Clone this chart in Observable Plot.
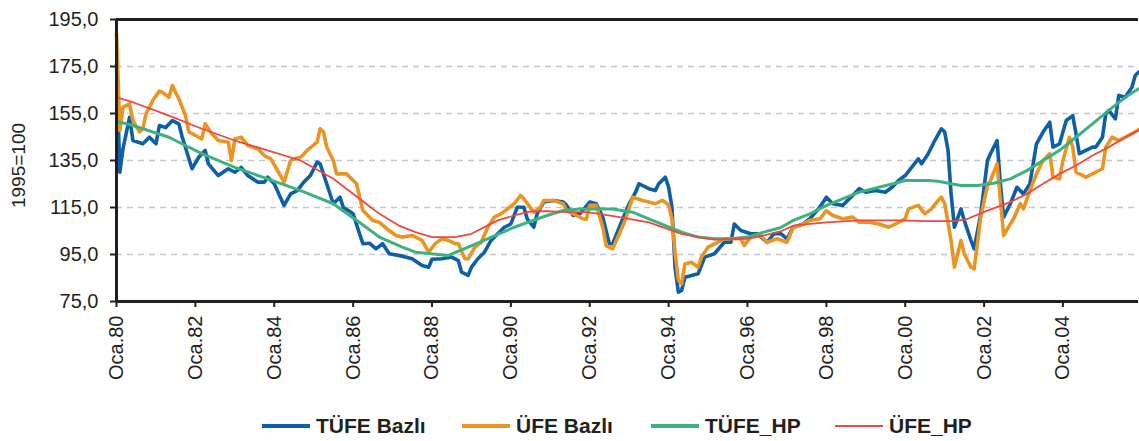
<!DOCTYPE html>
<html><head><meta charset="utf-8">
<script src="https://cdn.jsdelivr.net/npm/d3@7"></script>
<script src="https://cdn.jsdelivr.net/npm/@observablehq/plot@0.6"></script>
<style>
html,body{margin:0;padding:0;background:#fff;}
#wrap{position:relative;width:1139px;height:441px;overflow:hidden;font-family:"Liberation Sans",Arial,Helvetica,sans-serif;}
#legend{position:absolute;left:0;top:405px;width:1139px;height:41px;}
.item{position:absolute;top:0;height:41px;display:flex;align-items:center;}
.sw{width:48px;margin-right:6px;}
.lab{font-weight:bold;font-size:21px;color:#231f20;white-space:nowrap;}
</style></head><body>
<div id="wrap"><div id="chart"></div><div id="legend"></div></div>
<script>
// ---- data ----
const seriesNames = ["TÜFE Bazlı", "ÜFE Bazlı", "TÜFE_HP", "ÜFE_HP"];
const seriesColors = ["#0e5fa6", "#ec9422", "#3db27e", "#f0483a"];
const yTicks = [75, 95, 115, 135, 155, 175, 195];
const gridTicks = [95, 115, 135, 155, 175];
const xTickYears = ["1980","1982","1984","1986","1988","1990","1992","1994","1996","1998","2000","2002","2004"];
const xTickPrefix = "Oca.";
const yLabel = "1995=100";

const tufeDates = ["1980-01","1980-02","1980-03","1980-05","1980-06","1980-09","1980-11","1981-01","1981-02","1981-04","1981-06","1981-08","1981-09","1981-12","1982-02","1982-04","1982-05","1982-08","1982-11","1983-01","1983-03","1983-05","1983-08","1983-10","1983-11","1984-01","1984-04","1984-06","1984-08","1984-10","1984-12","1985-02","1985-03","1985-05","1985-07","1985-09","1985-10","1986-01","1986-03","1986-04","1986-06","1986-08","1986-10","1986-12","1987-04","1987-07","1987-10","1987-12","1988-01","1988-04","1988-07","1988-09","1988-10","1988-12","1989-01","1989-03","1989-05","1989-07","1989-09","1989-11","1990-01","1990-03","1990-05","1990-06","1990-08","1990-09","1990-11","1991-02","1991-05","1991-06","1991-08","1991-10","1992-01","1992-03","1992-05","1992-07","1992-08","1992-10","1993-01","1993-03","1993-04","1993-07","1993-09","1993-10","1993-12","1994-01","1994-02","1994-03","1994-04","1994-05","1994-06","1994-08","1994-10","1994-12","1995-03","1995-06","1995-08","1995-09","1995-11","1996-02","1996-04","1996-07","1996-09","1996-11","1997-01","1997-03","1997-06","1997-08","1997-11","1998-01","1998-03","1998-06","1998-09","1998-11","1999-01","1999-04","1999-07","1999-09","1999-11","2000-01","2000-03","2000-05","2000-06","2000-08","2000-10","2000-12","2001-01","2001-02","2001-03","2001-04","2001-06","2001-07","2001-09","2001-10","2001-12","2002-02","2002-03","2002-05","2002-06","2002-07","2002-09","2002-11","2003-01","2003-03","2003-05","2003-07","2003-09","2003-10","2003-12","2004-01","2004-02","2004-04","2004-05","2004-06","2004-08","2004-10","2004-11","2005-01","2005-02","2005-03","2005-05","2005-06","2005-08","2005-10","2005-11","2005-12"];
const tufeValues = [176,130,140,153.4,143.5,142.1,144.9,142.1,149.9,149,152,150.6,144.9,131.5,136.4,139.3,133.6,128.6,131.5,130,132.1,128.6,125.8,125.8,127.9,125.1,115.9,120.8,122.2,125.8,128.6,134.3,133.6,125.1,116.6,119.4,115.1,112.3,103.8,99.6,99.8,97.4,99.6,95.3,94.3,93.2,90.3,89.6,93,93.2,93.9,92.4,87.5,86.1,89.6,93.2,96,101,103.8,106.6,108,115.1,115.1,110.2,106.6,112.3,117.3,118,117.3,115.9,111.6,112.3,117.3,116.6,110.9,99.6,99.6,106.6,116.6,121.5,125.1,123,122.2,125.1,127.9,123.6,115.1,89.6,79,79.7,85.3,86.1,86.8,93.9,95.3,100.2,100.2,108,105.2,103.8,103.8,100.2,103.8,104,101.7,106.6,108,110.2,115.1,119.4,116.6,115.9,120.1,123,121.5,122.2,121.5,123.6,126.5,128.6,132.1,135.7,133.6,137.9,143.5,148.5,147.1,139.3,120.8,106.6,114.4,109.5,101,97.4,112.3,135,137.9,143.5,125.1,110.9,116.6,123.6,120.8,125.1,142.1,147.1,151.3,140.7,142.1,147.1,152,154.1,146.4,137.9,139.3,140.7,140.7,144.9,154.9,156.3,152.7,162.7,161.9,166.2,171.2,172.6];

const ufeDates = ["1980-01","1980-02","1980-03","1980-05","1980-06","1980-08","1980-09","1980-10","1980-12","1981-02","1981-03","1981-05","1981-06","1981-08","1981-10","1981-11","1982-02","1982-03","1982-04","1982-06","1982-08","1982-11","1982-12","1983-01","1983-03","1983-05","1983-08","1983-10","1983-12","1984-02","1984-04","1984-06","1984-07","1984-09","1984-11","1985-02","1985-03","1985-04","1985-05","1985-07","1985-08","1985-11","1986-01","1986-02","1986-04","1986-05","1986-07","1986-09","1986-12","1987-02","1987-04","1987-07","1987-10","1987-12","1988-02","1988-04","1988-06","1988-08","1988-09","1988-11","1988-12","1989-02","1989-04","1989-06","1989-08","1989-10","1990-02","1990-04","1990-05","1990-08","1990-10","1990-11","1991-02","1991-05","1991-06","1991-09","1991-11","1991-12","1992-01","1992-03","1992-05","1992-06","1992-08","1992-10","1992-12","1993-02","1993-05","1993-07","1993-09","1993-11","1993-12","1994-01","1994-02","1994-03","1994-04","1994-05","1994-06","1994-08","1994-10","1994-11","1995-01","1995-04","1995-06","1995-09","1995-11","1995-12","1996-02","1996-05","1996-07","1996-10","1997-01","1997-03","1997-05","1997-08","1997-11","1998-01","1998-03","1998-06","1998-09","1998-11","1999-02","1999-05","1999-08","1999-11","2000-01","2000-02","2000-05","2000-07","2000-09","2000-11","2000-12","2001-01","2001-03","2001-04","2001-06","2001-07","2001-09","2001-10","2001-12","2002-02","2002-03","2002-05","2002-06","2002-07","2002-09","2002-10","2002-12","2003-01","2003-03","2003-05","2003-07","2003-09","2003-10","2003-12","2004-01","2004-03","2004-04","2004-05","2004-08","2004-10","2005-01","2005-02","2005-04","2005-06","2005-08","2005-10","2005-12"];
const ufeValues = [189,147.8,157.7,159.1,152,147.2,148.5,154.9,160.5,164.5,164,161.9,166.9,161.2,154.1,147.2,144.9,144.2,150.6,146.4,143.5,142.8,135,144.2,144.9,141.4,140,137.1,135.7,130.7,125.8,135,135.7,136.4,139.3,142.8,148.5,147.2,140.7,135,129.3,129.3,126.5,125.1,113.7,112.3,109.5,108.7,105.2,103.1,102.4,103.1,101,96,99.6,101.7,101,99.6,99.6,93.2,93.2,98.1,100.2,106.6,110.9,112.3,116.6,120.1,118.7,113,115.1,118,118,116.6,113.7,111.6,110.2,110,115.9,115.9,106.6,98.8,97.4,103.8,110.2,119.4,118,117.3,116.6,118,117.3,116,110,96,84,82.5,91,91.7,89.6,93.9,98.1,100.2,101.7,101.7,101.7,98.8,102.4,103.1,100.2,101.7,100.2,106.6,107.3,109.5,110.2,113.7,111.6,110.2,110.9,108.7,108.7,108,106.6,108.7,110.2,114.4,115.9,112.3,114.4,118,119.4,116.6,101,89.6,101,95.3,89.6,88.9,110.9,124.4,126.5,133.6,118,103.1,108,110.2,116.6,114.4,122.2,129.3,135,137.9,127.9,127.2,135,144.9,140.7,130,127.9,129.3,131.5,140.7,144.9,143.5,144.9,146.4,148.1];

const tufeHpDates = ["1980-01","1980-06","1981-05","1982-03","1983-01","1983-11","1984-09","1985-07","1986-05","1986-09","1987-04","1987-08","1988-06","1989-04","1990-02","1990-12","1991-05","1991-10","1992-08","1993-02","1993-07","1994-05","1994-10","1995-03","1995-08","1996-01","1996-06","1996-11","1997-03","1997-08","1998-01","1998-06","1998-11","1999-05","1999-10","2000-01","2000-08","2000-11","2001-03","2001-06","2001-11","2002-04","2002-09","2003-02","2003-07","2003-12","2004-05","2004-10","2005-03","2005-08","2005-12"];
const tufeHpValues = [151.7,149.9,144.9,137.9,132.1,127.2,122.2,116.6,106.6,102.4,98.1,96,94.6,100.5,106.6,111.6,113.7,114.4,114.4,113,110.2,104.5,102.4,101.7,101.7,102.4,104.5,106.4,109.5,112.3,115.9,118.7,121.5,123.6,125.3,126.5,126.5,126.2,125.1,124.4,124.4,125.3,127.2,130.7,135,139.3,144.9,150.6,156.3,161.9,165.5];

const ufeHpDates = ["1980-01","1980-06","1981-05","1982-03","1983-01","1983-11","1984-09","1985-07","1986-05","1986-09","1987-03","1987-08","1988-01","1988-08","1989-01","1989-09","1990-02","1990-07","1990-12","1991-06","1991-12","1992-04","1992-10","1993-07","1994-05","1994-10","1995-03","1996-01","1996-06","1996-11","1997-03","1997-08","1998-01","1998-11","1999-10","2000-08","2001-04","2001-08","2002-02","2002-09","2003-02","2003-07","2003-12","2004-05","2004-10","2005-03","2005-08","2005-12"];
const ufeHpValues = [161.9,159.8,154.1,148.5,143.5,139.3,135,127.2,116.6,112.3,107.3,104.5,102.4,102.4,103.8,109.5,111.6,113.3,113.5,113,113,112.3,110.9,108.7,103.8,102.4,101.3,101.7,103.1,104.8,107.3,108,108.7,109.5,109.5,109.2,109.2,110.2,113.7,117.3,120.8,125.1,129.3,132.9,137.1,140.7,144.9,147.8];

// ---- build ----
const parse = d3.utcParse("%Y-%m");
const mk = (dates, vals) => dates.map((d, i) => ({date: parse(d), value: vals[i]}));
const data = [mk(tufeDates, tufeValues), mk(ufeDates, ufeValues), mk(tufeHpDates, tufeHpValues), mk(ufeHpDates, ufeHpValues)];
const widths = [3.6, 3.6, 3, 1.8];
const ink = "#231f20";
const x0 = parse("1980-01");

const chart = Plot.plot({
  width: 1139, height: 400,
  marginLeft: 116, marginRight: 1, marginTop: 19, marginBottom: 99,
  style: {fontFamily: "'Liberation Sans', Arial, sans-serif", fontSize: "20px", color: ink, background: "#fff", overflow: "visible"},
  x: {type: "utc", domain: [x0, parse("2005-12")]},
  y: {domain: [75, 195]},
  marks: [
    Plot.gridY(gridTicks, {stroke: "#c6c6d0", strokeOpacity: 1, strokeWidth: 1.5, strokeDasharray: "6,5"}),
    ...data.map((d, i) => Plot.lineY(d, {x: "date", y: "value", stroke: seriesColors[i], strokeWidth: widths[i], strokeLinejoin: "round"})),
    Plot.ruleY([195], {stroke: ink, strokeWidth: 3}),
    Plot.ruleY([75], {stroke: ink, strokeWidth: 3}),
    Plot.ruleX([x0], {stroke: ink, strokeWidth: 3}),
    Plot.axisY({ticks: yTicks, tickFormat: d => d.toFixed(1).replace(".", ","), tickSize: 6, tickPadding: 12, label: null, stroke: ink, strokeWidth: 2}),
    Plot.axisX({ticks: xTickYears.map(y => parse(y + "-01")), tickFormat: d => xTickPrefix + String(d.getUTCFullYear()).slice(2), tickRotate: -90, tickSize: 6, tickPadding: 8, label: null, stroke: ink, strokeWidth: 2}),
    Plot.text([yLabel], {text: d => d, frameAnchor: "left", textAnchor: "middle", dx: -98, dy: 5, rotate: -90, fontSize: 19, fill: ink})
  ]
});
document.getElementById("chart").appendChild(chart);

const legendLeft = [262, 462, 651, 835];
const legendLineW = [4, 4, 4, 2];
const lg = document.getElementById("legend");
seriesNames.forEach((n, i) => {
  const it = document.createElement("div");
  it.className = "item";
  it.style.left = legendLeft[i] + "px";
  it.innerHTML = `<div class="sw" style="height:${legendLineW[i]}px;background:${seriesColors[i]}"></div><span class="lab">${n}</span>`;
  lg.appendChild(it);
});
</script>
</body></html>
